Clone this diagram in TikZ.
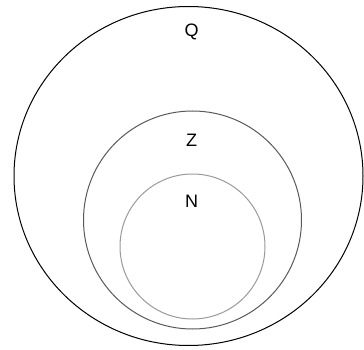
\documentclass[tikz,border=0pt]{standalone}
\usepackage{fontspec}
\setmainfont{Liberation Sans}
\begin{document}
\begin{tikzpicture}[x=1pt,y=-1pt,
  setline/.style={line width=1pt},
  lbl/.style={font=\fontsize{18}{21}\selectfont, inner sep=0pt}]
\useasboundingbox (0,0) rectangle (364,350);
\draw[setline, black] (188.5,176) ellipse [x radius=174.5, y radius=169.5];
\draw[setline, black!65] (192.5,220) circle [radius=109];
\draw[setline, black!40] (192.5,246.5) circle [radius=72.5];
\node[lbl] (Q) at (191.5,32) {Q};
\node[lbl] (Z) at (191.5,140.5) {Z};
\node[lbl] (N) at (191.5,201.5) {N};
\end{tikzpicture}
\end{document}
